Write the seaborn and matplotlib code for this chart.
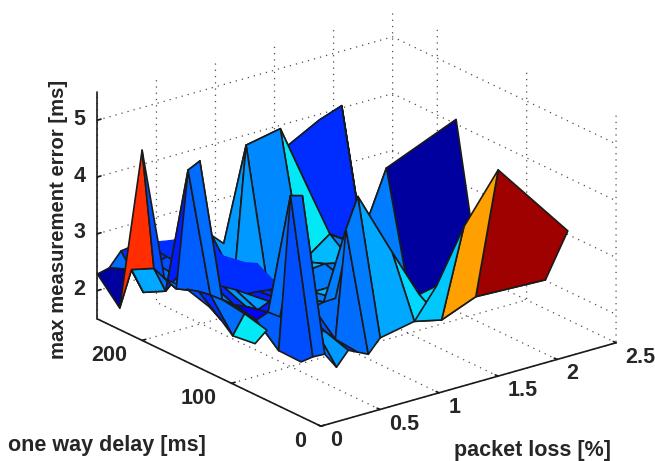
import numpy as np
import seaborn as sns
import matplotlib.pyplot as plt
from mpl_toolkits.mplot3d.art3d import Poly3DCollection

nan = np.nan

# packet loss [%] and one way delay [ms] of the measured grid
loss = [0, .1, .2, .3, .4, .5, .6, .7, .8, .88, .97, 1.07, 1.36, 1.59, 1.88, 2.47]
delay = [250, 225, 200, 175, 150, 125, 100, 75, 50]

# max measurement error [ms], one row per delay
err_250 = [2.29, 2.34, 2.58, 2.61, 2.60, 2.56, 2.52, 2.49, 2.45, 2.42, 2.40, 2.20, 2.31, 3.58, 3.90, nan]
err_225 = [1.88, 2.50, 2.04, 2.49, 2.55, 2.55, 2.50, 2.46, 2.37, 2.27, 1.83, 4.12, 4.24, 3.08, 4.34, nan]
err_200 = [4.85, 2.71, 2.25, 2.45, 2.51, 2.49, 2.46, 2.44, 2.42, 2.34, 2.28, 1.73, 2.09, 2.44, 2.04, nan]
err_175 = [2.78, 2.54, 4.57, 4.67, 2.45, 2.34, 2.23, 2.10, 2.08, 2.06, 2.06, 2.18, 2.24, 2.13, 3.62, 4.13]
err_150 = [2.78, 2.68, 2.56, 2.42, 2.27, 2.18, 2.06, 2.15, 2.12, 2.13, 2.08, 2.10, 2.11, 2.15, 1.62, 1.63]
err_125 = [2.66, 2.37, 2.03, 2.36, 2.19, 2.27, 2.13, 2.07, 2.10, 2.13, 2.17, 2.18, 2.21, 2.07, 2.20, 2.20]
err_100 = [nan, nan, 2.08, 2.26, 1.84, 4.51, 4.45, 2.08, 1.93, 1.76, 3.64, 4.16, 3.01, 2.13, 2.26, 2.26]
err_75 = [nan, nan, nan, nan, 1.83, 1.86, 1.85, 1.56, 1.80, 1.72, 1.63, 1.86, 1.98, 1.87, 2.11, 2.06]
err_50 = [nan, nan, nan, nan, nan, nan, nan, nan, nan, nan, nan, nan, 2.80, 3.70, 4.53, 3.11]

# colour value of each cell, between two neighbouring delays
col_250 = [.03, .22, .17, .17, .17, .17, .17, .17, .17, .17, .28, .25, .17, .17, .17]
col_225 = [.875, .29, .22, .20, .17, .17, .17, .17, .17, .17, .27, .26, .345, .17, .15]
col_200 = [.20, .22, .15, .17, .17, .17, .17, .17, .17, .17, .30, .30, .30, .25, .03]
col_175 = [.25, .21, .22, .24, .17, .27, .27, .15, .17, .20, .30, .25, .25, .25, .03]
col_150 = [.20, .17, .22, .17, .12, .10, .15, .30, .17, .22, .25, .30, .25, .03, .03]
col_125 = [.20, .17, .345, .15, .21, .22, .20, .15, .20, .22, .24, .30, .30, .03, .03]
col_100 = [.20, .20, .20, .20, .19, .21, .23, .28, .17, .23, .24, .29, .33, .33, .03]
col_75 = [.20, .20, .20, .20, .20, .20, .20, .20, .20, .20, .20, .20, .325, .745, .98]

loss_ticks = [0, .5, 1, 1.5, 2, 2.5]
loss_labels = ['0', '0.5', '1', '1.5', '2', '2.5']
delay_ticks = [0, 100, 200]
err_ticks = [2, 3, 4, 5]

elev, azim = 21.6, -127.5
box = np.array([370, 365, 243])
ranges = np.array([2.5, 250, 4])

sns.set_theme(style='white', font='Liberation Sans')
palette = sns.mpl_palette('jet', 64)

err = np.array([err_250, err_225, err_200, err_175, err_150, err_125, err_100, err_75, err_50])
cols = np.array([col_250, col_225, col_200, col_175, col_150, col_125, col_100, col_75])
X, Y = np.meshgrid(loss, delay)

# cells that merge with their neighbour, no black edge between them
flat_cells = [(i, j) for i in range(3) for j in range(4, 10)]
flat_cells += [(0, 13), (1, 13), (4, 13), (4, 14), (5, 13), (5, 14)]
# outline of the big blue face, kept in the depth sort
big_face_outline = [((0, 13), (0, 14)), ((0, 14), (1, 14)), ((1, 14), (2, 14)), ((2, 13), (2, 14))]


def vertex(k):
    return np.array([X[k], Y[k], err[k]])


verts, faces, edges = [], [], []
for i in range(err.shape[0] - 1):
    for j in range(err.shape[1] - 1):
        idx = [(i, j), (i, j + 1), (i + 1, j + 1), (i + 1, j)]
        if any(np.isnan(err[k]) for k in idx):
            continue
        verts.append([vertex(k) for k in idx])
        faces.append(palette[int(cols[i, j] * 63.99)])
        edges.append(faces[-1] if (i, j) in flat_cells else 'k')

# a step along the line of sight: same place on screen, sorted in front of the face
el, az = np.radians(elev), np.radians(azim)
sight = np.array([np.cos(el) * np.cos(az), np.cos(el) * np.sin(az), np.sin(el)]) * ranges / box * 80
for a, b in big_face_outline:
    verts.append([vertex(a), vertex(b), vertex(b) + sight, vertex(a) + sight])
    faces.append('k')
    edges.append('k')

fig = plt.figure(figsize=(6.55, 4.61), dpi=100)
ax = fig.add_axes([23 / 655, 7 / 461, 1, 1], projection='3d', proj_type='ortho')
ax.view_init(elev=elev, azim=azim)
ax.set_box_aspect(box, zoom=1.215)

surf = Poly3DCollection(verts, facecolors=faces, edgecolors=edges, linewidths=1.2)
surf.set_clip_on(False)
ax.add_collection3d(surf)

ax.set_xlim(0, 2.5, view_margin=0)
ax.set_ylim(0, 250, view_margin=0)
ax.set_zlim(1.5, 5.5, view_margin=0)
ax.set_xticks(loss_ticks, loss_labels)
ax.set_yticks(delay_ticks)
ax.set_zticks(err_ticks)

dots = (0, (1, 4))
for axis in [ax.xaxis, ax.yaxis, ax.zaxis]:
    axis.set_pane_color((1, 1, 1, 0))
    axis.pane.set_edgecolor('0.3')
    axis.pane.set_linestyle(dots)
    axis.pane.set_linewidth(.9)
    axis.line.set_color('k')
    axis.line.set_linewidth(1.2)
    axis._axinfo['grid'].update(color='0.3', linewidth=.9, linestyle=dots)
    axis._axinfo['tick'].update(inward_factor=0, outward_factor=.15)
    for lab in axis.get_ticklabels():
        lab.set_fontweight('bold')
        lab.set_fontsize(15.5)
        lab.set_va('center')
for lab in ax.xaxis.get_ticklabels():
    lab.set_ha('left')
for lab in ax.yaxis.get_ticklabels():
    lab.set_ha('right')
ax.tick_params(axis='x', color='k', pad=-.5)
ax.tick_params(axis='y', color='k', pad=.5)
ax.tick_params(axis='z', color='k', pad=-2)

fig.text(107 / 655, 1 - 445 / 461, 'one way delay [ms]', ha='center', va='center', fontweight='bold', fontsize=15.5)
fig.text(533 / 655, 1 - 450 / 461, 'packet loss [%]', ha='center', va='center', fontweight='bold', fontsize=15.5)
fig.text(58 / 655, 1 - 219 / 461, 'max measurement error [ms]', ha='center', va='center', rotation=90,
         fontweight='bold', fontsize=14.6)

fig.savefig('out.png', dpi=100)
